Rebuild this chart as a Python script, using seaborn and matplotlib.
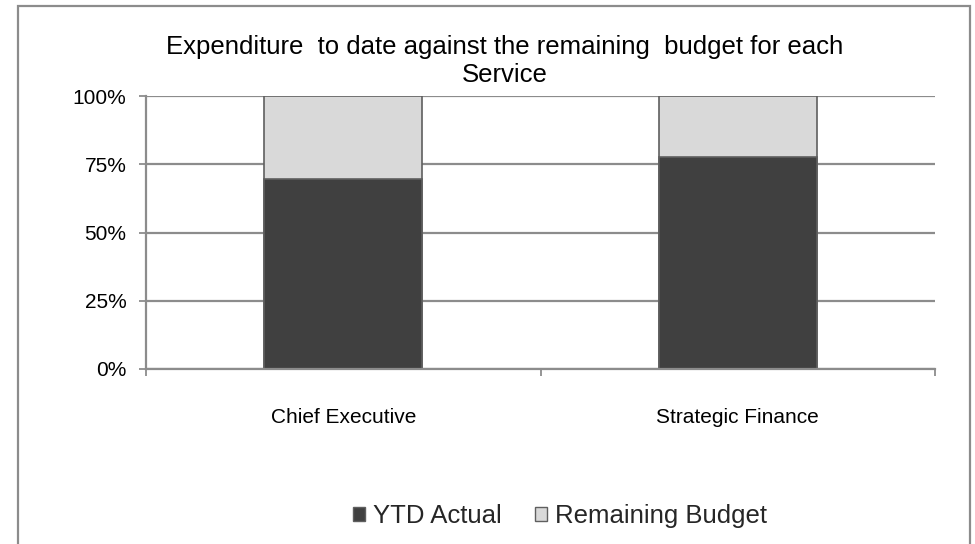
import matplotlib
matplotlib.use("Agg")
import matplotlib.pyplot as plt
from matplotlib.patches import Rectangle, Patch
from matplotlib.ticker import FixedLocator, PercentFormatter
import seaborn as sns
import pandas as pd

# Budget position per service (percent of full-year budget)
services = ["Chief Executive", "Strategic Finance"]
ytd_actual = [69.5, 77.5]
remaining_budget = [30.5, 22.5]
y_ticks = [0, 25, 50, 75, 100]

title = "Expenditure  to date against the remaining  budget for each\nService"
series_names = ["YTD Actual", "Remaining Budget"]

DARK = "#404040"
LIGHT = "#d9d9d9"
EDGE = "#5f5f5f"
GRID = "#8c8c8c"

sns.set_theme(style="white")
plt.rcParams["font.family"] = ["Liberation Sans", "DejaVu Sans"]

df = pd.DataFrame({
    "service": services,
    "ytd": ytd_actual,
    "remaining": remaining_budget,
})
df["total"] = df["ytd"] + df["remaining"]

fig = plt.figure(figsize=(9.75, 5.44), dpi=100)
ax = fig.add_axes([146 / 975, 1 - 369 / 544, (935 - 146) / 975, (369 - 96) / 544])

# stacked bars: full height in light grey, actual spend drawn over it
sns.barplot(data=df, x="service", y="total", color=LIGHT, width=0.4,
            edgecolor=EDGE, linewidth=1.2, saturation=1, ax=ax, zorder=3)
sns.barplot(data=df, x="service", y="ytd", color=DARK, width=0.4,
            edgecolor=EDGE, linewidth=1.2, saturation=1, ax=ax, zorder=4)

ax.set_xlim(-0.5, len(services) - 0.5)
ax.set_ylim(0, 100)
ax.set_xlabel("")
ax.set_ylabel("")

# y axis: percent ticks with horizontal gridlines
ax.yaxis.set_major_locator(FixedLocator(y_ticks))
ax.yaxis.set_major_formatter(PercentFormatter(decimals=0))
ax.grid(axis="y", color=GRID, linewidth=1.6, zorder=1)
ax.tick_params(axis="y", which="major", length=5, width=1.3, color=GRID,
               direction="out", pad=9, labelsize=15, labelcolor="black", left=True)

# x axis: tick marks on category boundaries, labels centred under bars
ax.xaxis.set_major_locator(FixedLocator([-0.5, 0.5, 1.5]))
ax.xaxis.set_minor_locator(FixedLocator(range(len(services))))
ax.set_xticklabels([], minor=False)
ax.set_xticklabels(services, minor=True)
ax.tick_params(axis="x", which="major", length=5, width=1.3, color=GRID,
               direction="out", bottom=True)
ax.tick_params(axis="x", which="minor", length=0, pad=28, labelsize=15,
               labelcolor="black", bottom=True)

for side in ["top", "right"]:
    ax.spines[side].set_visible(False)
for side in ["left", "bottom"]:
    ax.spines[side].set_color(GRID)
    ax.spines[side].set_linewidth(1.6)
    ax.spines[side].set_zorder(5)

fig.text(0.518, 1 - 61 / 544, title, ha="center", va="center",
         multialignment="center", fontsize=18.5, color="black", linespacing=1.2)

handles = [Patch(facecolor=DARK, edgecolor=EDGE, label=series_names[0]),
           Patch(facecolor=LIGHT, edgecolor=EDGE, label=series_names[1])]
fig.legend(handles=handles, loc="center", bbox_to_anchor=(0.574, 1 - 516 / 544),
           ncol=2, frameon=False, fontsize=18.5, handlelength=0.48, handleheight=0.48,
           handletextpad=0.3, columnspacing=1.3)

# outer chart border
fig.patches.append(Rectangle((18 / 975, -0.02), (970 - 18) / 975, 1.02 - 6 / 544,
                             transform=fig.transFigure, fill=False,
                             edgecolor="#8c8c8c", linewidth=1.6))

fig.savefig("out.png", dpi=100)
